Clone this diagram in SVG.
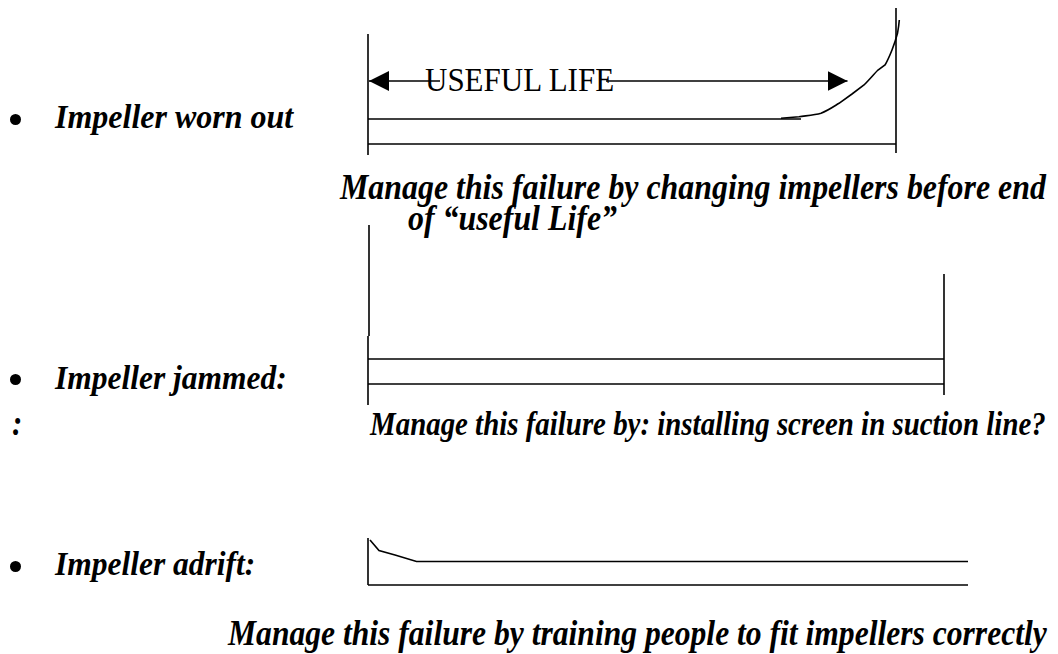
<svg xmlns="http://www.w3.org/2000/svg" width="1058" height="654" viewBox="0 0 1058 654">
<defs>
<style>
.ln{stroke:#000;stroke-width:1.6;fill:none}
.lbl{font-family:"Liberation Serif","Times New Roman",serif;font-weight:bold;font-style:italic;font-size:31px;fill:#000}
.plain{font-family:"Liberation Serif","Times New Roman",serif;font-size:31px;fill:#000}
</style>
<marker id="ah" viewBox="0 0 20 20" refX="20" refY="10" markerWidth="20" markerHeight="20" markerUnits="userSpaceOnUse" orient="auto-start-reverse">
<path d="M0,0 L20,10 L0,20 Z" fill="#000"/>
</marker>
</defs>
<rect width="1058" height="654" fill="#fff"/>

<g id="item-worn-out">
<circle cx="15.5" cy="119.5" r="5.5" fill="#000"/>
<text class="lbl" transform="translate(55,128) scale(1,1.08)" x="0" y="0" style="font-size:32px">Impeller worn out</text>
</g>

<g id="chart-worn-out">
<line class="ln" x1="368" y1="34" x2="368" y2="155"/>
<line class="ln" x1="896" y1="8" x2="896" y2="153"/>
<line class="ln" x1="368" y1="119" x2="801" y2="119"/>
<line class="ln" x1="368" y1="144" x2="896" y2="144"/>
<path class="ln" d="M781,118.3 L799,116.7 C808,115.5 815,115 821,113.3 C828,110.5 833,107 839,103.3 L852,94 L864,85 C869,80 874,74 878,70 L885,65 C888,60 890,55 892,50 C894,45 896,39 897.5,33.3 C898.5,28 899,24 899.3,20"/>
</g>

<g id="useful-life">
<line class="ln" x1="369" y1="81" x2="847.5" y2="81" marker-start="url(#ah)" marker-end="url(#ah)"/>
<rect x="440" y="70" width="166" height="22" fill="#fff"/>
<text class="plain" transform="translate(425,91) scale(1,1.08)" x="0" y="0">USEFUL LIFE</text>
</g>

<g id="note-worn-out">
<text class="lbl" transform="translate(340,199) scale(1,1.15)" x="0" y="0" style="font-size:31.9px">Manage this failure by changing impellers before end</text>
<text class="lbl" transform="translate(408,230) scale(1,1.15)" x="0" y="0" style="font-size:31.9px">of “useful Life”</text>
</g>

<g id="item-jammed">
<circle cx="15.5" cy="379.5" r="5.5" fill="#000"/>
<text class="lbl" transform="translate(55,389) scale(1,1.08)" x="0" y="0" style="font-size:31.5px">Impeller jammed:</text>
</g>

<g id="chart-jammed">
<line class="ln" x1="369" y1="225" x2="369" y2="336"/>
<line class="ln" x1="368" y1="336" x2="368" y2="405"/>
<line class="ln" x1="944" y1="274" x2="944" y2="395"/>
<line class="ln" x1="368" y1="359" x2="944" y2="359"/>
<line class="ln" x1="368" y1="384" x2="944" y2="384"/>
</g>

<g id="note-jammed">
<text class="lbl" transform="translate(12,435) scale(1,1.15)" x="0" y="0">:</text>
<text class="lbl" transform="translate(370,435) scale(1,1.2)" x="0" y="0" style="font-size:28.9px">Manage this failure by: installing screen in suction line?</text>
</g>

<g id="item-adrift">
<circle cx="15.5" cy="566.5" r="5.5" fill="#000"/>
<text class="lbl" transform="translate(55,575) scale(1,1.08)" x="0" y="0" style="font-size:31.5px">Impeller adrift:</text>
</g>

<g id="chart-adrift">
<line class="ln" x1="368" y1="538" x2="368" y2="585"/>
<line class="ln" x1="368" y1="585" x2="968" y2="585"/>
<polyline class="ln" points="370,540 379,550.5 395,555 416.5,561.5 968,561.5"/>
</g>

<g id="note-adrift">
<text class="lbl" transform="translate(228,645) scale(1,1.15)" x="0" y="0" style="font-size:31.6px">Manage this failure by training people to fit impellers correctly</text>
</g>
</svg>
